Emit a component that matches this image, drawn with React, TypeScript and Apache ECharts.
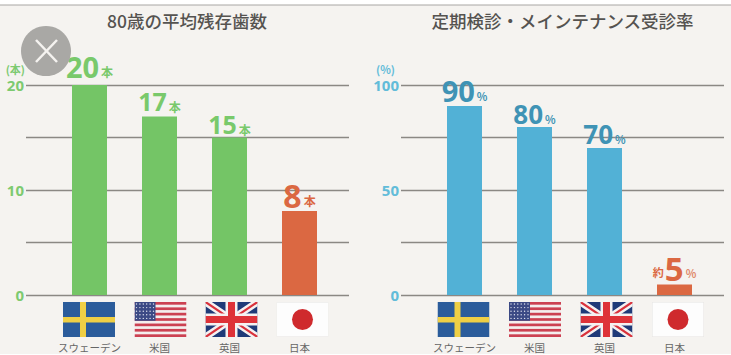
import React, { useEffect, useRef } from "react";
import * as echarts from "echarts";

const categories = ["スウェーデン", "米国", "英国", "日本"];
const teethTitle = "80歳の平均残存歯数";
const checkupTitle = "定期検診・メインテナンス受診率";
const teethValues = [20, 17, 15, 8];
const checkupValues = [90, 80, 70, 5];
const teethTicks = [0, 10, 20];
const checkupTicks = [0, 50, 100];

const BG = "#f5f3f0";
const GREEN = "#74c566";
const BLUE = "#52b1d6";
const ORANGE = "#db6842";
const FONT = '"Noto Sans CJK JP", sans-serif';
const NUM = '"Open Sans", "Noto Sans", sans-serif';

const svgUrl = (s: string) => "data:image/svg+xml;charset=utf-8," + encodeURIComponent(s);
const wrap = (inner: string) =>
  `<svg xmlns="http://www.w3.org/2000/svg" width="104" height="70" viewBox="0 0 52 35">${inner}</svg>`;

const swedenFlag = svgUrl(
  wrap(`<rect width="52" height="35" fill="#2b5c9b"/><rect x="17" width="6" height="35" fill="#efcf45"/><rect y="15" width="52" height="5.5" fill="#efcf45"/>`)
);
const usFlag = svgUrl(
  wrap(
    `<rect width="52" height="35" fill="#f4eeee"/>` +
      Array.from(Array(7).keys())
        .map((i) => `<rect y="${(i * 35) / 6.5}" width="52" height="2.69" fill="#cc4152"/>`)
        .join("") +
      `<rect width="21" height="18.8" fill="#3c4a85"/>` +
      Array.from(Array(5).keys())
        .map((r) =>
          Array.from(Array(6).keys())
            .map((c) => `<circle cx="${2 + c * 3.4}" cy="${2 + r * 3.6}" r="0.7" fill="#dfe2ee"/>`)
            .join("")
        )
        .join("")
  )
);
const ukFlag = svgUrl(
  wrap(
    `<rect width="52" height="35" fill="#1f3a78"/>` +
      `<path d="M0 0L52 35M52 0L0 35" stroke="#f5f1f1" stroke-width="7"/>` +
      `<path d="M0 0L52 35M52 0L0 35" stroke="#d9323c" stroke-width="2.2"/>` +
      `<rect x="20" width="12" height="35" fill="#f5f1f1"/><rect y="11.5" width="52" height="12" fill="#f5f1f1"/>` +
      `<rect x="22.5" width="7" height="35" fill="#de3238"/><rect y="14" width="52" height="7" fill="#de3238"/>`
  )
);
const japanFlag = svgUrl(
  wrap(
    `<rect x="0.25" y="0.25" width="51.5" height="34.5" fill="#fdfdfd" stroke="#e6e5e3" stroke-width="0.5"/><circle cx="26" cy="17.5" r="10.5" fill="#cf2a2d"/>`
  )
);
const flags = [swedenFlag, usFlag, ukFlag, japanFlag];
const leftFlagX = [63, 134.5, 205.5, 276.5];
const rightFlagX = [437.5, 509, 580.5, 652];

function panelLabel(
  size: number,
  gap: number,
  unit: string,
  unitSize: number,
  prefix: boolean,
  tone: string,
  i: number,
  lowColor: string
) {
  const color = i === 3 ? ORANGE : tone;
  return {
    show: true,
    position: "top" as const,
    distance: gap,
    formatter: (i === 3 && prefix ? "{p|約}" : "") + "{b|{c}}{u|" + unit + "}",
    rich: {
      b: { fontFamily: NUM, fontWeight: 700, fontSize: size, color, lineHeight: size },
      u: { fontFamily: FONT, fontWeight: 700, fontSize: unitSize, color: i === 3 ? lowColor : tone, padding: [10, 0, 0, 2] },
      p: { fontFamily: FONT, fontWeight: 700, fontSize: 11, color, padding: [8, 1, 0, 0] },
    },
  };
}

export default function App() {
  const ref = useRef<HTMLDivElement>(null);
  useEffect(() => {
    document.body.style.margin = "0";
    document.body.style.overflow = "hidden";
    const chart = echarts.init(ref.current!, undefined, { renderer: "svg" });

    const teethSize = [29, 25, 25, 32];
    const teethGap = [4, 3, 1, 0];
    const checkupSize = [29, 26, 26, 33];
    const checkupGap = [1, 0, 1, 0];

    const barX = (left: number) => ({ left, width: 280, top: 85, height: 210 });
    const frameX = (left: number) => ({ left, width: 323, top: 85, height: 210 });
    const catAxis = (gridIndex: number) => ({
      type: "category" as const,
      gridIndex,
      data: categories,
      axisLine: { show: false },
      axisTick: { show: false },
      axisLabel: { interval: 0, margin: 47, fontSize: 10.5, color: "#666", fontFamily: FONT },
    });
    const hiddenX = (gridIndex: number) => ({ type: "value" as const, gridIndex, show: false, min: 0, max: 1 });
    const hiddenY = (gridIndex: number, max: number) => ({ type: "value" as const, gridIndex, show: false, min: 0, max });
    const frameY = (gridIndex: number, max: number, interval: number, ticks: number[], name: string, color: string, pad: number) => ({
      type: "value" as const,
      gridIndex,
      min: 0,
      max,
      interval,
      name,
      nameLocation: "end" as const,
      nameGap: 11,
      nameTextStyle: { color, fontSize: 11, fontWeight: 700, fontFamily: FONT, align: "right" as const, padding: [0, pad, 0, 0] },
      axisLine: { show: false },
      axisTick: { show: false },
      axisLabel: {
        margin: 2,
        fontFamily: NUM,
        fontWeight: 700,
        fontSize: 15,
        color,
        formatter: (v: number) => (ticks.includes(v) ? String(v) : ""),
      },
      splitLine: { show: true, lineStyle: { color: "#8b8884", width: 1.4 } },
    });

    const flagImages = (xs: number[]) =>
      xs.map((x, i) => ({
        type: "image" as const,
        z: 5,
        style: { image: flags[i], x, y: 302, width: 52, height: 35 },
      }));
    const title = (text: string, x: number) => ({
      type: "text" as const,
      z: 5,
      style: { text, x, y: 20, align: "center", verticalAlign: "middle", fill: "#555350", font: `500 17.5px ${FONT}` },
    });

    chart.setOption({
      animation: false,
      backgroundColor: BG,
      grid: [barX(54.5), frameX(26), barX(429.5), frameX(401)],
      xAxis: [catAxis(0), hiddenX(1), catAxis(2), hiddenX(3)],
      yAxis: [
        hiddenY(0, 20),
        frameY(1, 20, 5, teethTicks, "(本)", "#7dca70", 1),
        hiddenY(2, 100),
        frameY(3, 100, 25, checkupTicks, "(%)", "#62bcd9", 6),
      ],
      series: [
        {
          type: "bar",
          xAxisIndex: 0,
          yAxisIndex: 0,
          barWidth: 35,
          data: teethValues.map((value, i) => ({
            value,
            itemStyle: { color: i === 3 ? ORANGE : GREEN },
            label: panelLabel(teethSize[i], teethGap[i], "本", 12, false, "#79c96b", i, ORANGE),
          })),
        },
        {
          type: "bar",
          xAxisIndex: 2,
          yAxisIndex: 2,
          barWidth: 35,
          data: checkupValues.map((value, i) => ({
            value,
            itemStyle: { color: i === 3 ? ORANGE : BLUE },
            label: panelLabel(checkupSize[i], checkupGap[i], "%", 11, true, "#3f93b5", i, "#e08a6c"),
          })),
        },
      ],
      graphic: [
        { type: "rect", z: 6, shape: { x: 0, y: 0, width: 731, height: 5 }, style: { fill: "#ffffff" } },
        { type: "line", z: 6, shape: { x1: 0, y1: 5, x2: 731, y2: 5 }, style: { stroke: "#a8a6a3", lineWidth: 1 } },
        { type: "rect", z: 6, shape: { x: 0, y: 354, width: 731, height: 1 }, style: { fill: "#ffffff" } },
        title(teethTitle, 187),
        title(checkupTitle, 562.5),
        ...flagImages(leftFlagX),
        ...flagImages(rightFlagX),
        { type: "circle", z: 10, shape: { cx: 46, cy: 51, r: 25 }, style: { fill: "#a9a8a5" } },
        { type: "line", z: 11, shape: { x1: 36, y1: 40, x2: 57, y2: 62 }, style: { stroke: "#f5f3f0", lineWidth: 2.5 } },
        { type: "line", z: 11, shape: { x1: 57, y1: 40, x2: 36, y2: 62 }, style: { stroke: "#f5f3f0", lineWidth: 2.5 } },
      ],
    });
    return () => chart.dispose();
  }, []);
  return <div ref={ref} style={{ position: "absolute", left: 0, top: 0, width: 731, height: 355 }} />;
}
